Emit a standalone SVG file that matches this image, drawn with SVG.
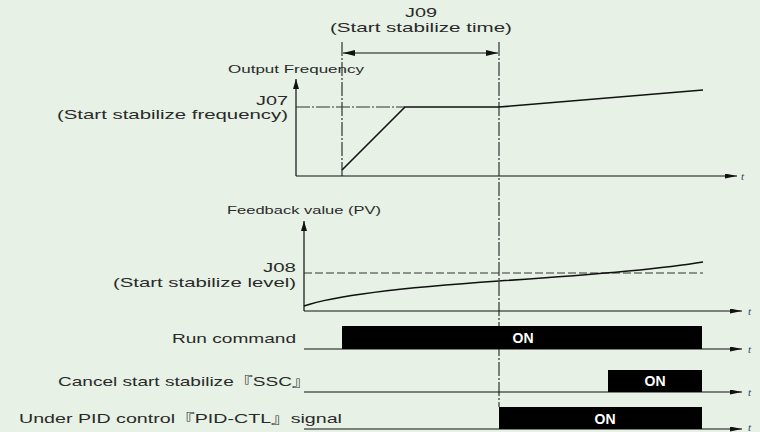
<svg xmlns="http://www.w3.org/2000/svg" width="760" height="432" viewBox="0 0 760 432">
<defs>
<marker id="ah" viewBox="0 0 12 5" refX="12" refY="2.5" markerWidth="12" markerHeight="5" markerUnits="userSpaceOnUse" orient="auto-start-reverse"><path d="M0,0 L12,2.5 L0,5 Z" fill="#111"/></marker>
<marker id="av" viewBox="0 0 6 10" refX="3" refY="0" markerWidth="6" markerHeight="10" markerUnits="userSpaceOnUse" orient="0"><path d="M0,10 L3,0 L6,10 Z" fill="#111"/></marker>
<marker id="ad" viewBox="0 0 12 6" refX="12" refY="3" markerWidth="12" markerHeight="6" markerUnits="userSpaceOnUse" orient="auto-start-reverse"><path d="M0,0 L12,3 L0,6 Z" fill="#111"/></marker>
</defs>
<style>
.bg{fill:#e7f1e5}
.lbl{font-family:"Liberation Sans","Noto Sans CJK JP",sans-serif;font-size:13px;fill:#2a2a2a}
.sm{font-size:11.5px}
.on{font-family:"Liberation Sans",sans-serif;font-size:14px;font-weight:bold;fill:#fff;text-anchor:middle}
.t{font-family:"Liberation Serif",serif;font-style:italic;font-size:11px;fill:#2b3f6b}
.ax{stroke:#111;stroke-width:1.2;fill:none}
.dd{stroke:#333;stroke-width:1.2;fill:none;stroke-dasharray:14 2 2 2}
.dh{stroke:#333;stroke-width:1;fill:none;stroke-dasharray:8 3}
.cv{stroke:#111;stroke-width:1.6;fill:none}
.box{fill:#000}
</style>
<rect class="bg" width="760" height="432"/>
<g id="connectors">
<line class="dd" x1="342" y1="42" x2="342" y2="176"/>
<line class="dd" x1="499" y1="42" x2="499" y2="407"/>
<line class="ax" x1="343" y1="53" x2="498" y2="53" marker-start="url(#ad)" marker-end="url(#ad)"/>
<line class="ax" x1="296" y1="176" x2="296" y2="79" marker-end="url(#av)"/>
<line class="ax" x1="296" y1="176" x2="737" y2="176" marker-end="url(#ah)"/>
<line class="dd" x1="296" y1="107" x2="405" y2="107"/>
<path class="cv" d="M342,170 L405,107 L499,107 Q560,102 703,90"/>
<line class="ax" x1="304" y1="311" x2="304" y2="221" marker-end="url(#av)"/>
<line class="ax" x1="304" y1="311" x2="742" y2="311" marker-end="url(#ah)"/>
<line class="dh" x1="304" y1="273" x2="703" y2="273"/>
<path class="cv" d="M304,306 C330,297 380,289 499,281 C560,277 650,271 703,262"/>
<line class="ax" x1="304" y1="349" x2="742" y2="349" marker-end="url(#ah)"/>
<line class="ax" x1="304" y1="392" x2="742" y2="392" marker-end="url(#ah)"/>
<line class="ax" x1="304" y1="429" x2="742" y2="429" marker-end="url(#ah)"/>
</g>
<g id="title-j09">
<text class="lbl" x="405" y="17" textLength="32" lengthAdjust="spacingAndGlyphs">J09</text>
<text class="lbl" x="330" y="32" textLength="182" lengthAdjust="spacingAndGlyphs">(Start stabilize time)</text>
</g>
<g id="output-frequency">
<text class="lbl sm" x="228" y="73" textLength="136" lengthAdjust="spacingAndGlyphs">Output Frequency</text>
<text class="lbl" x="256" y="105" textLength="32" lengthAdjust="spacingAndGlyphs">J07</text>
<text class="lbl" x="57" y="119" textLength="231" lengthAdjust="spacingAndGlyphs">(Start stabilize frequency)</text>
<text class="t" x="741" y="180">t</text>
</g>
<g id="feedback-value">
<text class="lbl sm" x="227" y="214" textLength="154" lengthAdjust="spacingAndGlyphs">Feedback value (PV)</text>
<text class="lbl" x="263" y="272" textLength="33" lengthAdjust="spacingAndGlyphs">J08</text>
<text class="lbl" x="113" y="287" textLength="183" lengthAdjust="spacingAndGlyphs">(Start stabilize level)</text>
<text class="t" x="748" y="315">t</text>
</g>
<g id="run-command">
<text class="lbl" x="172" y="343" textLength="124" lengthAdjust="spacingAndGlyphs">Run command</text>
<rect class="box" x="342" y="326" width="360" height="23"/>
<text class="on" x="523" y="343">ON</text>
<text class="t" x="748" y="353">t</text>
</g>
<g id="cancel-ssc">
<text class="lbl" x="58" y="386" textLength="253" lengthAdjust="spacingAndGlyphs">Cancel start stabilize『SSC』</text>
<rect class="box" x="608" y="370" width="94" height="22"/>
<text class="on" x="655" y="386">ON</text>
<text class="t" x="748" y="396">t</text>
</g>
<g id="pid-ctl">
<text class="lbl" x="19" y="423" textLength="323" lengthAdjust="spacingAndGlyphs">Under PID control『PID-CTL』signal</text>
<rect class="box" x="499" y="407" width="203" height="22"/>
<text class="on" x="605" y="424">ON</text>
<text class="t" x="748" y="431">t</text>
</g>
</svg>
